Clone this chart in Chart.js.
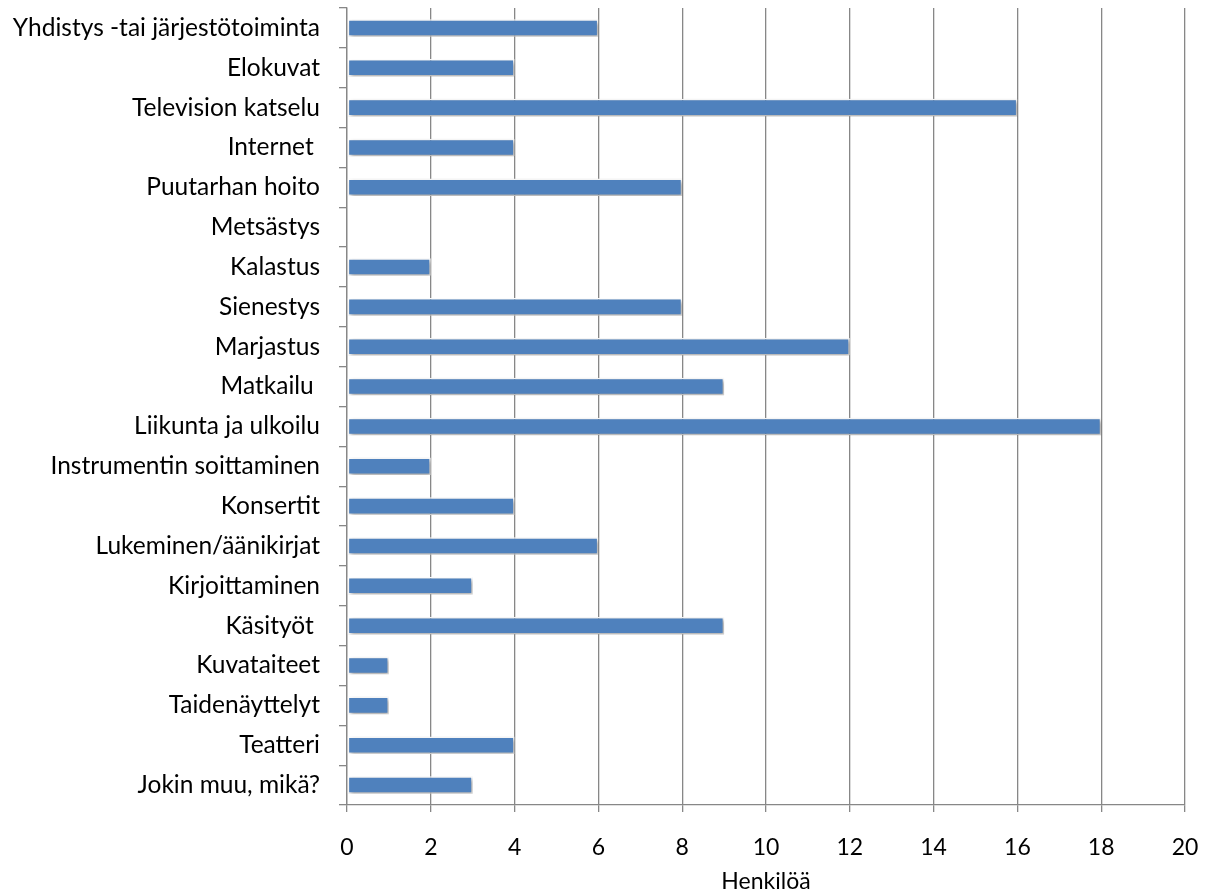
<!DOCTYPE html>
<html lang="fi">
<head>
    <meta charset="UTF-8">
    <title>Harrastukset</title>
    <script src="https://cdn.jsdelivr.net/npm/chart.js"></script>
    <style>
        body {
            margin: 0;
            background-color: #ffffff;
        }
        #chart {
            display: block;
        }
    </style>
</head>
<body>
    <canvas id="chart" width="1216" height="893"></canvas>

    <script>
        const categories = [
            "Yhdistys -tai järjestötoiminta",
            "Elokuvat",
            "Television katselu",
            "Internet ",
            "Puutarhan hoito",
            "Metsästys",
            "Kalastus",
            "Sienestys",
            "Marjastus",
            "Matkailu ",
            "Liikunta ja ulkoilu",
            "Instrumentin soittaminen",
            "Konsertit",
            "Lukeminen/äänikirjat",
            "Kirjoittaminen",
            "Käsityöt ",
            "Kuvataiteet",
            "Taidenäyttelyt",
            "Teatteri",
            "Jokin muu, mikä?"
        ];
        const henkiloa = [6, 4, 16, 4, 8, 0, 2, 8, 12, 9, 18, 2, 4, 6, 3, 9, 1, 1, 4, 3];
        const xTicks = [0, 2, 4, 6, 8, 10, 12, 14, 16, 18, 20];

        const fontFamily = "Lato, 'Open Sans', sans-serif";
        const gridColor = '#878787';

        // soft drop shadow under the bars, like the office chart
        const barShadow = {
            id: 'barShadow',
            beforeDatasetsDraw(chart) {
                const ctx = chart.ctx;
                ctx.save();
                ctx.shadowColor = 'rgba(0, 0, 0, 0.35)';
                ctx.shadowBlur = 4;
                ctx.shadowOffsetX = 2;
                ctx.shadowOffsetY = 2;
            },
            afterDatasetsDraw(chart) {
                chart.ctx.restore();
            }
        };

        new Chart(document.getElementById('chart').getContext('2d'), {
            type: 'bar',
            data: {
                labels: categories,
                datasets: [{
                    label: 'Henkilöä',
                    data: henkiloa,
                    backgroundColor: '#4F81BD',
                    borderColor: '#ffffff',
                    borderWidth: 1.5,
                    borderSkipped: false,
                    categoryPercentage: 1.0,
                    barPercentage: 0.44
                }]
            },
            options: {
                indexAxis: 'y',
                responsive: false,
                animation: false,
                layout: {
                    padding: { top: 8, right: 31, left: 0, bottom: 0 }
                },
                plugins: {
                    legend: { display: false },
                    tooltip: { enabled: false }
                },
                scales: {
                    x: {
                        min: 0,
                        max: 20,
                        afterBuildTicks: scale => {
                            scale.ticks = xTicks.map(v => ({ value: v }));
                        },
                        grid: {
                            color: gridColor,
                            lineWidth: 1.3,
                            tickLength: 7,
                            drawTicks: true
                        },
                        border: { color: gridColor, width: 1.3 },
                        ticks: {
                            color: '#000',
                            padding: 22,
                            font: { family: fontFamily, size: 23 }
                        },
                        title: {
                            display: true,
                            text: 'Henkilöä',
                            color: '#000',
                            padding: { top: 4, bottom: -2 },
                            font: { family: fontFamily, size: 23 }
                        },
                        afterFit: scale => {
                            scale.height = 88;
                            scale.paddingLeft = 0;
                            scale.paddingRight = 0;
                        }
                    },
                    y: {
                        offset: true,
                        grid: {
                            offset: true,
                            drawOnChartArea: false,
                            drawTicks: true,
                            tickLength: 8,
                            color: gridColor,
                            lineWidth: 1.3
                        },
                        border: { color: gridColor, width: 1.3 },
                        ticks: {
                            color: '#000',
                            padding: 19,
                            autoSkip: false,
                            font: { family: fontFamily, size: 24.5 }
                        },
                        afterFit: scale => {
                            scale.width = 347;
                            scale.paddingTop = 0;
                            scale.paddingBottom = 0;
                        }
                    }
                }
            },
            plugins: [barShadow]
        });
    </script>
</body>
</html>
